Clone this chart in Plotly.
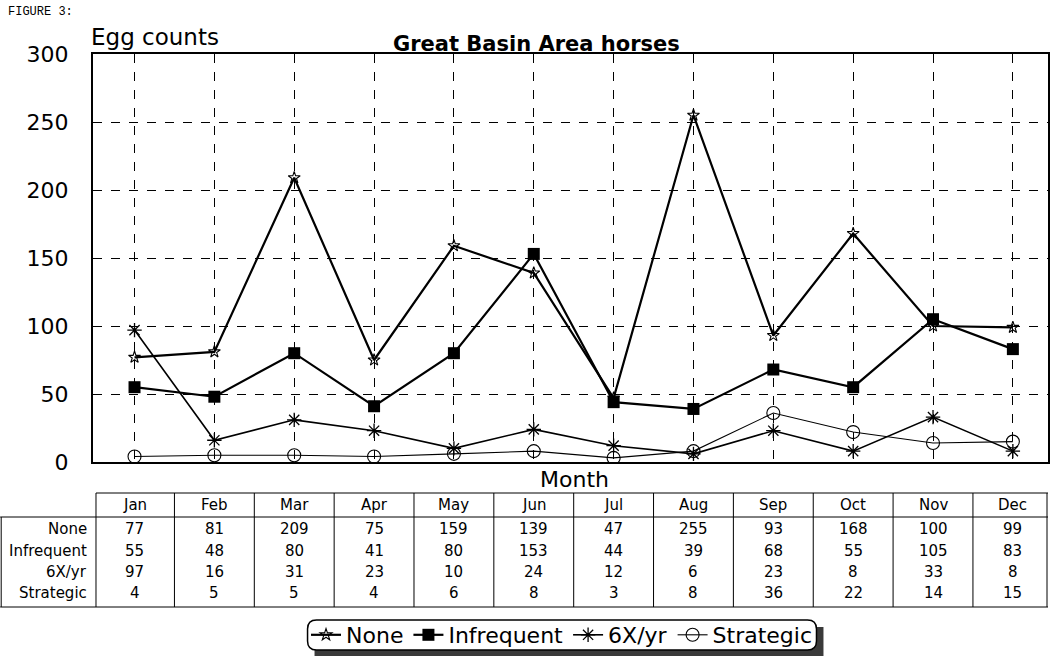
import plotly.graph_objects as go

months = ["Jan", "Feb", "Mar", "Apr", "May", "Jun", "Jul", "Aug", "Sep", "Oct", "Nov", "Dec"]
none_vals = [77, 81, 209, 75, 159, 139, 47, 255, 93, 168, 100, 99]
infrequent_vals = [55, 48, 80, 41, 80, 153, 44, 39, 68, 55, 105, 83]
six_vals = [97, 16, 31, 23, 10, 24, 12, 6, 23, 8, 33, 8]
strategic_vals = [4, 5, 5, 4, 6, 8, 3, 8, 36, 22, 14, 15]
series_names = ["None", "Infrequent", "6X/yr", "Strategic"]
y_ticks = [0, 50, 100, 150, 200, 250, 300]

FONT = "DejaVu Sans, Liberation Sans, Arial, sans-serif"
W, H = 1051, 659
L, R, T, B = 93, 1, 54, 197
PLOT_BOTTOM = H - B
PH = H - T - B
PW = W - L - R


def py(ypx):
    return (PLOT_BOTTOM - ypx) / PH


def pxx(xpx):
    return (xpx - L) / PW


xi = list(range(len(months)))
fig = go.Figure()
styles = [
    (none_vals, dict(symbol="star-open", size=9, color="black", line=dict(width=1.1, color="black")), 2.2),
    (infrequent_vals, dict(symbol="square", size=12, color="black"), 2.2),
    (six_vals, dict(symbol="asterisk-open", size=12, color="black", line=dict(width=1.3, color="black")), 1.6),
    (strategic_vals, dict(symbol="circle-open", size=13, color="black", line=dict(width=1.1, color="black")), 1.1),
]
for name, (vals, mk, lw) in zip(series_names, styles):
    fig.add_trace(go.Scatter(x=xi, y=vals, mode="lines+markers", name=name,
                             line=dict(color="black", width=lw), marker=mk))

shapes = []
ann = []
LINE = dict(color="black", width=1)
# Table geometry (pixels)
top_line, head_line, bottom_line = 493, 517, 607
row_y = [529, 551, 572, 593]
shapes.append(dict(type="line", xref="paper", yref="paper", x0=pxx(96), x1=1, y0=py(top_line), y1=py(top_line), line=LINE))
shapes.append(dict(type="line", xref="paper", yref="paper", x0=pxx(0), x1=1, y0=py(head_line), y1=py(head_line), line=LINE))
shapes.append(dict(type="line", xref="paper", yref="paper", x0=pxx(0), x1=1, y0=py(bottom_line), y1=py(bottom_line), line=LINE))
shapes.append(dict(type="line", xref="paper", yref="paper", x0=pxx(96), x1=pxx(96), y0=py(top_line), y1=py(bottom_line), line=LINE))
shapes.append(dict(type="line", xref="paper", yref="paper", x0=pxx(1), x1=pxx(1), y0=py(head_line), y1=py(bottom_line), line=LINE))
for i in range(len(months) - 1):
    shapes.append(dict(type="line", xref="x", yref="paper", x0=i + 0.5, x1=i + 0.5, y0=py(top_line), y1=py(bottom_line), line=LINE))
shapes.append(dict(type="line", xref="paper", yref="paper", x0=pxx(1049), x1=pxx(1049), y0=py(top_line), y1=py(bottom_line), line=LINE))

TF = dict(size=15, family=FONT, color="black")
for i, m in enumerate(months):
    ann.append(dict(x=i, y=py(505), xref="x", yref="paper", yanchor="middle", text=m, showarrow=False, font=TF))
for r, (name, vals) in enumerate(zip(series_names, [none_vals, infrequent_vals, six_vals, strategic_vals])):
    ann.append(dict(x=pxx(89), y=py(row_y[r]), xref="paper", yref="paper", yanchor="middle", text=name,
                    showarrow=False, xanchor="right", font=TF))
    for i, v in enumerate(vals):
        ann.append(dict(x=i, y=py(row_y[r]), xref="x", yref="paper", yanchor="middle", text=str(v),
                        showarrow=False, font=TF))

ann.append(dict(x=pxx(576), y=py(479), xref="paper", yref="paper", yanchor="middle", text="Month", showarrow=False,
                font=dict(size=22, family=FONT, color="black")))
ann.append(dict(x=pxx(89), y=py(37), xref="paper", yref="paper", yanchor="middle", text="Egg counts", showarrow=False,
                xanchor="left", font=dict(size=23, family=FONT, color="black")))
ann.append(dict(x=pxx(537), y=py(44), xref="paper", yref="paper", yanchor="middle", text="<b>Great Basin Area horses</b>",
                showarrow=False, font=dict(size=21, family=FONT, color="black")))
ann.append(dict(x=pxx(6), y=py(12), xref="paper", yref="paper", yanchor="middle", text="FIGURE 3:", showarrow=False,
                xanchor="left", font=dict(size=12, family="Liberation Mono, Courier New, monospace", color="black")))

# legend frame: shadow + rounded white box
lx0, lx1, ly0, ly1 = 308, 818, 620, 650
rad = 9
shapes.append(dict(type="rect", xref="paper", yref="paper", x0=pxx(lx0 + 7), x1=pxx(lx1 + 7),
                   y0=py(ly0 + 7), y1=py(ly1 + 6), fillcolor="#3a3a3a", line=dict(width=0)))


def rpath(x0, x1, y0, y1, r):
    X = lambda v: f"{pxx(v):.5f}"
    Y = lambda v: f"{py(v):.5f}"
    return (f"M {X(x0 + r)} {Y(y0)} L {X(x1 - r)} {Y(y0)} Q {X(x1)} {Y(y0)} {X(x1)} {Y(y0 + r)} "
            f"L {X(x1)} {Y(y1 - r)} Q {X(x1)} {Y(y1)} {X(x1 - r)} {Y(y1)} "
            f"L {X(x0 + r)} {Y(y1)} Q {X(x0)} {Y(y1)} {X(x0)} {Y(y1 - r)} "
            f"L {X(x0)} {Y(y0 + r)} Q {X(x0)} {Y(y0)} {X(x0 + r)} {Y(y0)} Z")


shapes.append(dict(type="path", xref="paper", yref="paper", path=rpath(lx0, lx1, ly0, ly1, rad),
                   fillcolor="white", line=dict(color="black", width=1.5)))

fig.update_layout(
    width=W, height=H,
    margin=dict(l=L, r=R, t=T, b=B),
    paper_bgcolor="white", plot_bgcolor="white",
    showlegend=True,
    legend=dict(orientation="h", x=pxx((lx0 + lx1) / 2), xanchor="center", y=py((ly0 + ly1) / 2), yanchor="middle",
                borderwidth=0, bgcolor="rgba(0,0,0,0)",
                font=dict(size=22, family=FONT, color="black"), itemwidth=30),
    xaxis=dict(range=[-0.52, 11.44], tickvals=xi, showticklabels=False, showgrid=True,
               gridcolor="black", griddash="dash", gridwidth=0.8, zeroline=False,
               showline=True, linecolor="black", linewidth=2, mirror=True, ticks=""),
    yaxis=dict(range=[0, 300], tickvals=y_ticks, showgrid=True, gridcolor="black", griddash="dash",
               gridwidth=0.8, zeroline=False, showline=True, linecolor="black", linewidth=2, mirror=True,
               ticks="", tickfont=dict(size=22, family=FONT, color="black"), ticklabelstandoff=18),
    shapes=shapes, annotations=ann,
)

fig.write_html("out.html", config={"displayModeBar": False},
               post_script="document.body.style.margin='0';document.body.style.overflow='hidden';")
